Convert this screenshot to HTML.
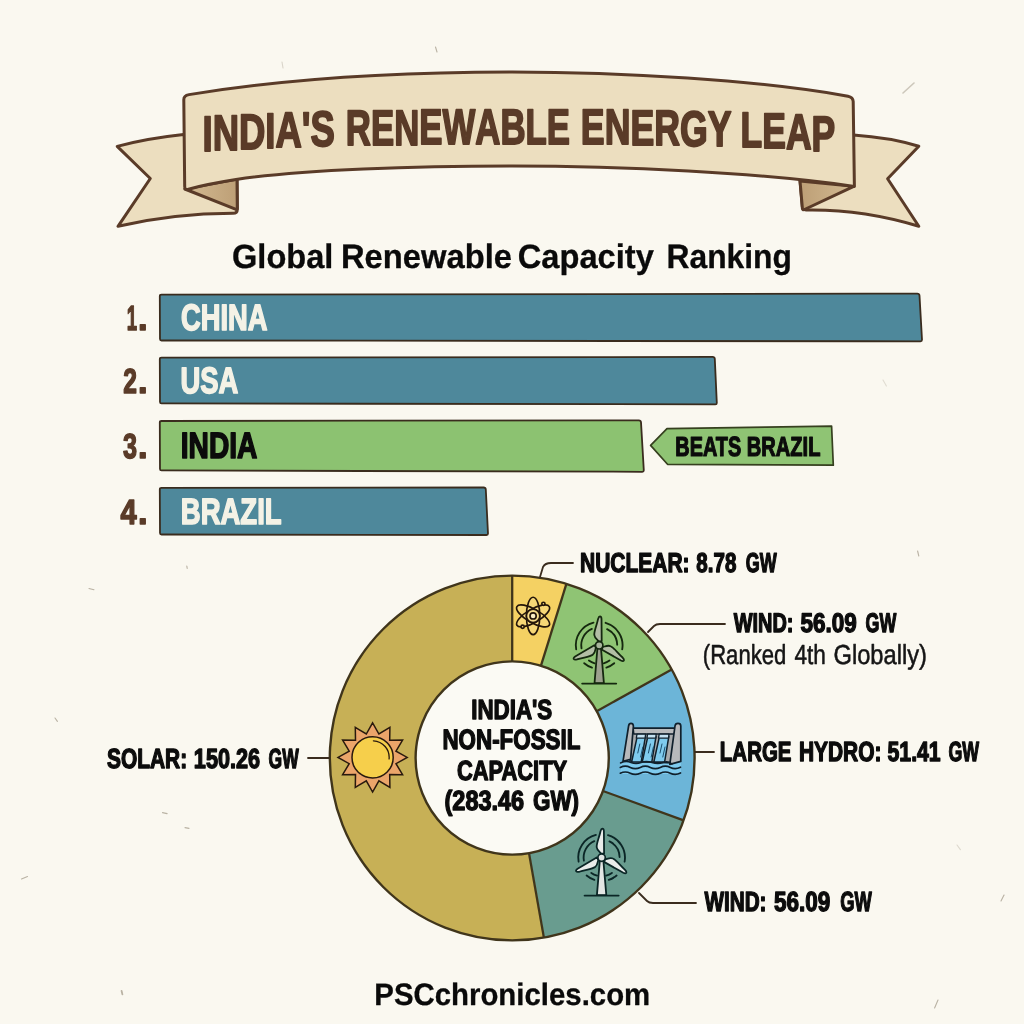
<!DOCTYPE html>
<html lang="en"><head><meta charset="utf-8"><title>India's Renewable Energy Leap</title>
<style>
html,body{margin:0;padding:0;background:#faf8f0;}
body{width:1024px;height:1024px;overflow:hidden;}
svg{display:block;font-family:"Liberation Sans",sans-serif;will-change:transform;}
text{text-rendering:geometricPrecision;}
</style></head><body>
<svg width="1024" height="1024" viewBox="0 0 1024 1024">
<rect width="1024" height="1024" fill="#faf8f0"/>
<defs>
<linearGradient id="foldL" x1="0" y1="0" x2="1" y2="0"><stop offset="0" stop-color="#d3ba92"/><stop offset="1" stop-color="#bd9f76"/></linearGradient>
<linearGradient id="foldR" x1="1" y1="0" x2="0" y2="0"><stop offset="0" stop-color="#d3ba92"/><stop offset="1" stop-color="#bd9f76"/></linearGradient>
</defs>
<g stroke="#5a3b28" stroke-width="3" stroke-linejoin="round" stroke-linecap="round">
<path d="M183.5 134.5 Q146 138.5 117.2 146.4 L150.3 178.5 L118 226.3 Q174 213.4 233 213.3 Q237.3 213.2 237.3 209.5 L237 178 Z" fill="#ecdebf"/>
<path d="M853.5 135 Q890 137.5 918.8 146.2 L887.6 178.8 L918.8 226.2 Q862 209 806 210 Q802.6 210 802.4 207 L800 180 Z" fill="#ecdebf"/>
<path d="M184.8 189 L236 209.4 Q237.3 210 237.3 208 L237 179 Z" fill="url(#foldL)"/>
<path d="M800 181 L802.4 208.5 Q802.5 210.5 804.5 209.5 L853.8 186.3 Z" fill="url(#foldR)"/>
<path d="M183.8 100 Q183.6 95.6 189 94.6 C300 76.5 420 72 512 72 C620 72 760 80 848 96.2 Q853 97.2 853.2 101.5 L854.4 186.4 C760 172.5 620 166 512 166 C420 166 300 169.5 236 179.6 Q205 184.5 188.5 189.3 Q184.8 190.4 184.7 186.5 Z" fill="#ecdebf"/>
</g>
<text font-size="50" font-weight="bold" fill="#5a3b28" stroke="#5a3b28" stroke-width="1.9" stroke-linejoin="round"><tspan x="202.5" y="151.18 150.11 148.77 147.97 147.27 146.68 146.18" textLength="132.3" lengthAdjust="spacingAndGlyphs">INDIA'S</tspan> <tspan x="345.8" y="145.31 144.86 144.50 144.22 143.99 143.85 143.80 143.82 143.88" textLength="224.2" lengthAdjust="spacingAndGlyphs">RENEWABLE</tspan> <tspan x="580.8" y="144.09 144.33 144.65 145.06 145.62 146.29" textLength="150.2" lengthAdjust="spacingAndGlyphs">ENERGY</tspan> <tspan x="740.6" y="147.34 148.24 149.40 150.75" textLength="94.7" lengthAdjust="spacingAndGlyphs">LEAP</tspan></text>
<g stroke="#857a66" stroke-width="1.1" stroke-linecap="round" opacity="0.55" fill="none">
<path d="M435.5 47 l1.5 5"/><path d="M903 93 l11 -10" stroke-width="1.6" opacity="0.7"/><path d="M282 62 l1 6" opacity="0.5"/>
<path d="M186.8 566 l0.4 2.4"/><path d="M89 588.5 l5 1.2"/><path d="M55 718 l2.4 3.4"/><path d="M162.5 812.6 l4.6 1"/>
<path d="M185 827.6 l4 0.8"/><path d="M21.5 879 l6 -2.4"/><path d="M121.6 991 l0.8 3.4" stroke-width="1.8"/>
<path d="M917.6 551 l1.2 5"/><path d="M799 325 l1.6 3.6"/><path d="M883 380 l3.4 6" opacity="0.4"/><path d="M938 1000 l-3.4 8"/>
<path d="M1004 895 l-3 6"/><path d="M957 845 l3.4 4.6" opacity="0.45"/>
</g>
<text y="268.4" font-size="33.8" font-weight="bold" fill="#0a0a0a" stroke="#0a0a0a" stroke-width="0.3" stroke-linejoin="round"><tspan x="232.01" textLength="101.40" lengthAdjust="spacingAndGlyphs">Global</tspan> <tspan x="340.99" textLength="170.98" lengthAdjust="spacingAndGlyphs">Renewable</tspan> <tspan x="517.81" textLength="136.02" lengthAdjust="spacingAndGlyphs">Capacity</tspan> <tspan x="666.55" textLength="125.42" lengthAdjust="spacingAndGlyphs">Ranking</tspan></text>
<path d="M161.5 294.7 L917.3 293.6 Q919.3 293.6 919.5 295.6 L922.0 339.8 Q922.0 341.3 920.5 341.3 L161.5 340.5 Q160 340.5 160 339.0 L159.8 296.2 Q159.8 294.7 161.5 294.7 Z" fill="#4e889b" stroke="#3a2c1e" stroke-width="1.8" stroke-linejoin="round"/>
<text y="330.2" font-size="36.63" font-weight="bold" fill="#f4f2e6" stroke="#f4f2e6" stroke-width="1.6" stroke-linejoin="round"><tspan x="180.98" textLength="86.55" lengthAdjust="spacingAndGlyphs">CHINA</tspan></text>
<text y="330.15" font-size="34.88" font-weight="bold" fill="#5a3b28" stroke="#5a3b28" stroke-width="1.5" stroke-linejoin="round"><tspan x="126.69" textLength="10.36" lengthAdjust="spacingAndGlyphs">1</tspan><tspan x="137.9" textLength="9.6" lengthAdjust="spacingAndGlyphs">.</tspan></text>
<path d="M161.5 357.7 L712.6 356.9 Q714.6 356.9 714.8000000000001 358.9 L716.8 402.9 Q716.8 404.4 715.3 404.4 L161.5 403.4 Q160 403.4 160 401.9 L159.8 359.2 Q159.8 357.7 161.5 357.7 Z" fill="#4e889b" stroke="#3a2c1e" stroke-width="1.8" stroke-linejoin="round"/>
<text y="393.0" font-size="36.63" font-weight="bold" fill="#f4f2e6" stroke="#f4f2e6" stroke-width="1.6" stroke-linejoin="round"><tspan x="180.46" textLength="57.87" lengthAdjust="spacingAndGlyphs">USA</tspan></text>
<text y="392.95" font-size="34.88" font-weight="bold" fill="#5a3b28" stroke="#5a3b28" stroke-width="1.5" stroke-linejoin="round"><tspan x="123.31" textLength="13.70" lengthAdjust="spacingAndGlyphs">2</tspan><tspan x="137.9" textLength="9.6" lengthAdjust="spacingAndGlyphs">.</tspan></text>
<path d="M161.5 421.0 L638.8 420.3 Q640.8 420.3 641.0 422.3 L643.8 470.3 Q643.8 471.8 642.3 471.8 L161.5 470.4 Q160 470.4 160 468.9 L159.8 422.5 Q159.8 421.0 161.5 421.0 Z" fill="#8cc271" stroke="#3a2c1e" stroke-width="1.8" stroke-linejoin="round"/>
<text y="458.4" font-size="36.63" font-weight="bold" fill="#0b0b0b" stroke="#0b0b0b" stroke-width="1.6" stroke-linejoin="round"><tspan x="180.74" textLength="76.70" lengthAdjust="spacingAndGlyphs">INDIA</tspan></text>
<text y="458.35" font-size="34.88" font-weight="bold" fill="#5a3b28" stroke="#5a3b28" stroke-width="1.5" stroke-linejoin="round"><tspan x="122.89" textLength="14.04" lengthAdjust="spacingAndGlyphs">3</tspan><tspan x="137.9" textLength="9.6" lengthAdjust="spacingAndGlyphs">.</tspan></text>
<path d="M161.5 487.9 L483.6 487.5 Q485.6 487.5 485.8 489.5 L488.0 533.5 Q488.0 535.0 486.5 535.0 L161.5 534.5 Q160 534.5 160 533.0 L159.8 489.4 Q159.8 487.9 161.5 487.9 Z" fill="#4e889b" stroke="#3a2c1e" stroke-width="1.8" stroke-linejoin="round"/>
<text y="523.6" font-size="36.63" font-weight="bold" fill="#f4f2e6" stroke="#f4f2e6" stroke-width="1.6" stroke-linejoin="round"><tspan x="180.78" textLength="100.84" lengthAdjust="spacingAndGlyphs">BRAZIL</tspan></text>
<text y="523.55" font-size="34.88" font-weight="bold" fill="#5a3b28" stroke="#5a3b28" stroke-width="1.5" stroke-linejoin="round"><tspan x="120.51" textLength="16.19" lengthAdjust="spacingAndGlyphs">4</tspan><tspan x="137.9" textLength="9.6" lengthAdjust="spacingAndGlyphs">.</tspan></text>
<path d="M650.6 445.4 L667 428.6 L831.6 426.2 L833.3 465.2 L667.5 464.3 Z" fill="#8fc474" stroke="#36401f" stroke-width="1.7" stroke-linejoin="round"/>
<text y="455.6" font-size="27.62" font-weight="bold" fill="#0b0b0b" stroke="#0b0b0b" stroke-width="1.2" stroke-linejoin="round"><tspan x="675.29" textLength="65.89" lengthAdjust="spacingAndGlyphs">BEATS</tspan> <tspan x="746.77" textLength="73.73" lengthAdjust="spacingAndGlyphs">BRAZIL</tspan></text>
<g>
<path d="M543.9 937.6 A182.4 182.4 0 1 1 512.2 575.6 L512.2 661.4 A96.6 96.6 0 1 0 529.0 853.1 Z" fill="#c7b056"/>
<path d="M512.2 575.6 A182.4 182.4 0 0 1 566.4 583.9 L540.9 665.8 A96.6 96.6 0 0 0 512.2 661.4 Z" fill="#f4d163"/>
<path d="M566.4 583.9 A182.4 182.4 0 0 1 671.7 669.6 L596.7 711.2 A96.6 96.6 0 0 0 540.9 665.8 Z" fill="#8fc474"/>
<path d="M671.7 669.6 A182.4 182.4 0 0 1 683.6 820.4 L603.0 791.0 A96.6 96.6 0 0 0 596.7 711.2 Z" fill="#6cb5d8"/>
<path d="M683.6 820.4 A182.4 182.4 0 0 1 543.9 937.6 L529.0 853.1 A96.6 96.6 0 0 0 603.0 791.0 Z" fill="#699c8f"/>
<circle cx="512.2" cy="758.0" r="96.6" fill="#fbfaf4"/>
<line x1="512.2" y1="661.4" x2="512.2" y2="575.6" stroke="#40351b" stroke-width="2.3"/>
<line x1="540.9" y1="665.8" x2="566.4" y2="583.9" stroke="#40351b" stroke-width="2.3"/>
<line x1="596.7" y1="711.2" x2="671.7" y2="669.6" stroke="#40351b" stroke-width="2.3"/>
<line x1="603.0" y1="791.0" x2="683.6" y2="820.4" stroke="#40351b" stroke-width="2.3"/>
<line x1="529.0" y1="853.1" x2="543.9" y2="937.6" stroke="#40351b" stroke-width="2.3"/>
<circle cx="512.2" cy="758.0" r="182.4" fill="none" stroke="#40351b" stroke-width="2.4"/>
<circle cx="512.2" cy="758.0" r="96.6" fill="none" stroke="#40351b" stroke-width="2.4"/>
</g>
<text y="719.3" font-size="27.76" font-weight="bold" fill="#0c0c0c" stroke="#0c0c0c" stroke-width="1.4" stroke-linejoin="round"><tspan x="471.23" textLength="81.05" lengthAdjust="spacingAndGlyphs">INDIA'S</tspan></text>
<text y="749.1" font-size="27.91" font-weight="bold" fill="#0c0c0c" stroke="#0c0c0c" stroke-width="1.4" stroke-linejoin="round"><tspan x="442.42" textLength="138.04" lengthAdjust="spacingAndGlyphs">NON-FOSSIL</tspan></text>
<text y="779.6" font-size="27.76" font-weight="bold" fill="#0c0c0c" stroke="#0c0c0c" stroke-width="1.4" stroke-linejoin="round"><tspan x="456.90" textLength="110.25" lengthAdjust="spacingAndGlyphs">CAPACITY</tspan></text>
<text y="809.7" font-size="27.76" font-weight="bold" fill="#0c0c0c" stroke="#0c0c0c" stroke-width="1.4" stroke-linejoin="round"><tspan x="444.55" textLength="79.59" lengthAdjust="spacingAndGlyphs">(283.46</tspan> <tspan x="532.98" textLength="46.11" lengthAdjust="spacingAndGlyphs">GW)</tspan></text>
<g fill="none" stroke="#3a2c1e" stroke-width="1.8" stroke-linecap="round" stroke-linejoin="round">
<path d="M540 577 L543 567 Q545 563 551 563 L573 563"/>
<path d="M648 632 L654 626 Q656 624 660 624 L725 624"/>
<path d="M695 752 L714 752"/>
<path d="M639 893 L647 901 Q649 903 653 903 L696 903"/>
<path d="M308 758 L329 758"/>
</g>
<text y="571.7" font-size="27.33" font-weight="bold" fill="#0c0c0c" stroke="#0c0c0c" stroke-width="1.4" stroke-linejoin="round"><tspan x="580.02" textLength="109.49" lengthAdjust="spacingAndGlyphs">NUCLEAR:</tspan> <tspan x="696.36" textLength="40.06" lengthAdjust="spacingAndGlyphs">8.78</tspan> <tspan x="745.66" textLength="30.95" lengthAdjust="spacingAndGlyphs">GW</tspan></text>
<text y="632.3" font-size="27.03" font-weight="bold" fill="#0c0c0c" stroke="#0c0c0c" stroke-width="1.4" stroke-linejoin="round"><tspan x="733.68" textLength="59.84" lengthAdjust="spacingAndGlyphs">WIND:</tspan> <tspan x="800.53" textLength="56.29" lengthAdjust="spacingAndGlyphs">56.09</tspan> <tspan x="865.57" textLength="30.74" lengthAdjust="spacingAndGlyphs">GW</tspan></text>
<text y="663.8" font-size="27.5" font-weight="normal" fill="#151515" stroke="#151515" stroke-width="0.55" stroke-linejoin="round"><tspan x="702.80" textLength="83.53" lengthAdjust="spacingAndGlyphs">(Ranked</tspan> <tspan x="794.38" textLength="31.40" lengthAdjust="spacingAndGlyphs">4th</tspan> <tspan x="833.49" textLength="93.50" lengthAdjust="spacingAndGlyphs">Globally)</tspan></text>
<text y="761.2" font-size="27.62" font-weight="bold" fill="#0c0c0c" stroke="#0c0c0c" stroke-width="1.4" stroke-linejoin="round"><tspan x="719.85" textLength="71.65" lengthAdjust="spacingAndGlyphs">LARGE</tspan> <tspan x="798.92" textLength="82.60" lengthAdjust="spacingAndGlyphs">HYDRO:</tspan> <tspan x="887.56" textLength="53.12" lengthAdjust="spacingAndGlyphs">51.41</tspan> <tspan x="948.47" textLength="30.64" lengthAdjust="spacingAndGlyphs">GW</tspan></text>
<text y="911.3" font-size="27.76" font-weight="bold" fill="#0c0c0c" stroke="#0c0c0c" stroke-width="1.4" stroke-linejoin="round"><tspan x="704.38" textLength="62.11" lengthAdjust="spacingAndGlyphs">WIND:</tspan> <tspan x="774.03" textLength="56.29" lengthAdjust="spacingAndGlyphs">56.09</tspan> <tspan x="840.35" textLength="31.56" lengthAdjust="spacingAndGlyphs">GW</tspan></text>
<text y="767.7" font-size="27.62" font-weight="bold" fill="#0c0c0c" stroke="#0c0c0c" stroke-width="1.4" stroke-linejoin="round"><tspan x="107.01" textLength="80.19" lengthAdjust="spacingAndGlyphs">SOLAR:</tspan> <tspan x="193.86" textLength="66.21" lengthAdjust="spacingAndGlyphs">150.26</tspan> <tspan x="268.58" textLength="30.13" lengthAdjust="spacingAndGlyphs">GW</tspan></text>
<text y="1005.2" font-size="31" font-weight="bold" fill="#0a0a0a" stroke="#0a0a0a" stroke-width="0.3" stroke-linejoin="round"><tspan x="374.31" textLength="275.93" lengthAdjust="spacingAndGlyphs">PSCchronicles.com</tspan></text>
<polygon points="372.6,722.8 378.9,734.0 389.9,727.4 389.7,740.3 402.6,740.1 396.0,751.1 407.2,757.4 396.0,763.7 402.6,774.7 389.7,774.5 389.9,787.4 378.9,780.8 372.6,792.0 366.3,780.8 355.3,787.4 355.5,774.5 342.6,774.7 349.2,763.7 338.0,757.4 349.2,751.1 342.6,740.1 355.5,740.3 355.3,727.4 366.3,734.0" fill="#eba56a" stroke="#2a1a0e" stroke-width="1.5" stroke-linejoin="miter"/>
<circle cx="372.6" cy="757.4" r="20.6" fill="#f6cf4b" stroke="#2a1a0e" stroke-width="1.5"/>
<path d="M373.4 740.8 A16.6 16.6 0 0 1 389.1 758.9" fill="none" stroke="#2a1a0e" stroke-width="1.3" stroke-linecap="round"/>
<g fill="#f8de8a" fill-opacity="0.5" stroke="none">
<ellipse cx="533.1" cy="615.9" rx="6.7" ry="18.7" transform="rotate(0 533.1 615.9)"/>
<ellipse cx="533.1" cy="615.9" rx="6.7" ry="18.7" transform="rotate(60 533.1 615.9)"/>
<ellipse cx="533.1" cy="615.9" rx="6.7" ry="18.7" transform="rotate(-60 533.1 615.9)"/>
</g>
<g fill="none" stroke="#24160a" stroke-width="1.65">
<ellipse cx="533.1" cy="615.9" rx="6.7" ry="18.7" transform="rotate(0 533.1 615.9)"/>
<ellipse cx="533.1" cy="615.9" rx="6.7" ry="18.7" transform="rotate(60 533.1 615.9)"/>
<ellipse cx="533.1" cy="615.9" rx="6.7" ry="18.7" transform="rotate(-60 533.1 615.9)"/>
<circle cx="533.1" cy="615.9" r="6.7" fill="#f6dc8a"/>
<circle cx="533.1" cy="615.9" r="3.1" fill="#fbeec4"/>
<circle cx="543.4" cy="603.8" r="1.6" fill="#f6dc8a"/>
<circle cx="522.6" cy="626.7" r="1.6" fill="#f6dc8a"/>
</g>
<g fill="none" stroke="#15280f" stroke-width="1.85" stroke-linecap="round">
<path d="M576.2 649.4 A23.4 23.4 0 0 1 593.5 622.6"/><path d="M581.5 648.4 A18 18 0 0 1 591.9 628.9"/><path d="M605.6 622.8 A23.4 23.4 0 0 1 622.2 649.4"/><path d="M607.1 629.1 A18 18 0 0 1 617.2 644.7"/><path d="M614.2 663.2 A23.4 23.4 0 0 1 606.4 667.6"/><path d="M609.5 660.6 A18.5 18.5 0 0 1 603.7 663.3"/><path d="M592.0 667.6 A23.4 23.4 0 0 1 584.2 663.2"/><path d="M594.7 663.3 A18.5 18.5 0 0 1 588.9 660.6"/>
</g>
<path d="M597.5 647.3 L594.5 683.2 L603.9 683.2 L600.9 647.3 Z" fill="#9da18e" stroke="#15280f" stroke-width="1.8" stroke-linejoin="round"/>
<path d="M582.2 683.6 L616.2 683.6" stroke="#15280f" stroke-width="1.9" stroke-linecap="round"/>
<path transform="translate(599.2 645.3) rotate(0)" d="M2.5 -4.2 L2.3 -26.4 Q2.1 -28.9 0.8 -28.9 Q-0.4 -28.8 -1.1 -26.4 C-2.4 -20 -5.3 -14 -4.9 -10.3 C-4.7 -7.4 -2.3 -6 -0.3 -4 Z" fill="#b3bea5" stroke="#15280f" stroke-width="1.8" stroke-linejoin="round"/>
<path transform="translate(599.2 645.3) rotate(120)" d="M2.5 -4.2 L2.3 -26.4 Q2.1 -28.9 0.8 -28.9 Q-0.4 -28.8 -1.1 -26.4 C-2.4 -20 -5.3 -14 -4.9 -10.3 C-4.7 -7.4 -2.3 -6 -0.3 -4 Z" fill="#b3bea5" stroke="#15280f" stroke-width="1.8" stroke-linejoin="round"/>
<path transform="translate(599.2 645.3) rotate(240)" d="M2.5 -4.2 L2.3 -26.4 Q2.1 -28.9 0.8 -28.9 Q-0.4 -28.8 -1.1 -26.4 C-2.4 -20 -5.3 -14 -4.9 -10.3 C-4.7 -7.4 -2.3 -6 -0.3 -4 Z" fill="#b3bea5" stroke="#15280f" stroke-width="1.8" stroke-linejoin="round"/>
<circle cx="599.2" cy="645.3" r="3.7" fill="#a9b69c" stroke="#15280f" stroke-width="1.7"/>
<g stroke-linejoin="round" stroke-linecap="round">
<path d="M620.5 763 Q626 760.5 631 762.5 T641 762.5 T652 762.5 T663 762.5 T672 764 L681 761.5 L681 774 L620.5 774 Z" fill="#7fcbee"/>
<path d="M632 728.3 L676 728.3 L672 763 L630 761 Z" fill="#a9abad" stroke="#10202c" stroke-width="1.6"/>
<path d="M633.2 728.3 L675.2 728.3 L674.4 734 L633.8 734 Z" fill="#b9bbbd" stroke="#10202c" stroke-width="1.5"/>
<path d="M637.2 736.6 L645.4000000000001 736.6 L641.2 762 L631.6 762 Z" fill="#7fcbee" stroke="#10202c" stroke-width="1.5"/>
<path d="M637.0 734.2 L645.6 734.2 L645.1 738.2 L636.3 738.2 Z" fill="#c4e2f2" stroke="#10202c" stroke-width="1.3"/>
<path d="M639.8 744 L637.8 753 M642.8 747 L640.6 757" fill="none" stroke="#1d4f6e" stroke-width="1"/>
<path d="M647.8 736.6 L656.0 736.6 L651.8 762 L642.2 762 Z" fill="#7fcbee" stroke="#10202c" stroke-width="1.5"/>
<path d="M647.6 734.2 L656.2 734.2 L655.7 738.2 L646.9 738.2 Z" fill="#c4e2f2" stroke="#10202c" stroke-width="1.3"/>
<path d="M650.4 744 L648.4 753 M653.4 747 L651.2 757" fill="none" stroke="#1d4f6e" stroke-width="1"/>
<path d="M659.4 736.6 L668.8 736.6 L664.6 762 L653.8 762 Z" fill="#7fcbee" stroke="#10202c" stroke-width="1.5"/>
<path d="M659.2 734.2 L669.0 734.2 L668.5 738.2 L658.5 738.2 Z" fill="#c4e2f2" stroke="#10202c" stroke-width="1.3"/>
<path d="M662.0 744 L660.0 753 M665.0 747 L662.8 757" fill="none" stroke="#1d4f6e" stroke-width="1"/>
<path d="M623 761.4 L628.6 726 Q629 723.4 631 723.4 Q633.2 723.4 633.4 726 L630.6 759.2 Z" fill="#b7b9bb" stroke="#10202c" stroke-width="1.7"/>
<path d="M669.8 764.4 L675 726 Q675.3 723.4 678 723.4 Q680.8 723.4 680.8 726 L680.8 761.4 Z" fill="#b7b9bb" stroke="#10202c" stroke-width="1.7"/>
<path d="M620.5 763 Q626 760.5 631 762.5 T641 762.5 T652 762.5 T663 762.5 T672 764" fill="none" stroke="#10202c" stroke-width="1.5"/>
<path d="M620.3 767.4 Q625.3 765 630.3 767.4 T640.3 767.4 T650.3 767.4 T660.3 767.4 T670.3 767.4 T680.5 767.2" fill="none" stroke="#10202c" stroke-width="1.7"/>
<path d="M620.3 773.2 Q625.3 770.8 630.3 773.2 T640.3 773.2 T650.3 773.2 T660.3 773.2 T670.3 773.2 T680.5 773" fill="none" stroke="#10202c" stroke-width="1.7"/>
</g>
<g fill="none" stroke="#0b2626" stroke-width="1.85" stroke-linecap="round">
<path d="M578.6 861.7 A23.4 23.4 0 0 1 595.9 834.9"/><path d="M583.9 860.7 A18 18 0 0 1 594.3 841.2"/><path d="M608.0 835.1 A23.4 23.4 0 0 1 624.6 861.7"/><path d="M609.5 841.4 A18 18 0 0 1 619.6 857.0"/><path d="M616.6 875.5 A23.4 23.4 0 0 1 608.8 879.9"/><path d="M611.9 872.9 A18.5 18.5 0 0 1 606.1 875.6"/><path d="M594.4 879.9 A23.4 23.4 0 0 1 586.6 875.5"/><path d="M597.1 875.6 A18.5 18.5 0 0 1 591.3 872.9"/>
</g>
<path d="M599.9 859.6 L596.9 895.2 L606.3 895.2 L603.3 859.6 Z" fill="#e3e6e4" stroke="#0b2626" stroke-width="1.8" stroke-linejoin="round"/>
<path d="M584.6 895.6 L618.6 895.6" stroke="#0b2626" stroke-width="1.9" stroke-linecap="round"/>
<path transform="translate(601.6 857.6) rotate(0)" d="M2.5 -4.2 L2.3 -26.4 Q2.1 -28.9 0.8 -28.9 Q-0.4 -28.8 -1.1 -26.4 C-2.4 -20 -5.3 -14 -4.9 -10.3 C-4.7 -7.4 -2.3 -6 -0.3 -4 Z" fill="#e9ecea" stroke="#0b2626" stroke-width="1.8" stroke-linejoin="round"/>
<path transform="translate(601.6 857.6) rotate(120)" d="M2.5 -4.2 L2.3 -26.4 Q2.1 -28.9 0.8 -28.9 Q-0.4 -28.8 -1.1 -26.4 C-2.4 -20 -5.3 -14 -4.9 -10.3 C-4.7 -7.4 -2.3 -6 -0.3 -4 Z" fill="#e9ecea" stroke="#0b2626" stroke-width="1.8" stroke-linejoin="round"/>
<path transform="translate(601.6 857.6) rotate(240)" d="M2.5 -4.2 L2.3 -26.4 Q2.1 -28.9 0.8 -28.9 Q-0.4 -28.8 -1.1 -26.4 C-2.4 -20 -5.3 -14 -4.9 -10.3 C-4.7 -7.4 -2.3 -6 -0.3 -4 Z" fill="#e9ecea" stroke="#0b2626" stroke-width="1.8" stroke-linejoin="round"/>
<circle cx="601.6" cy="857.6" r="3.7" fill="#dfe3e1" stroke="#0b2626" stroke-width="1.7"/>
</svg></body></html>
